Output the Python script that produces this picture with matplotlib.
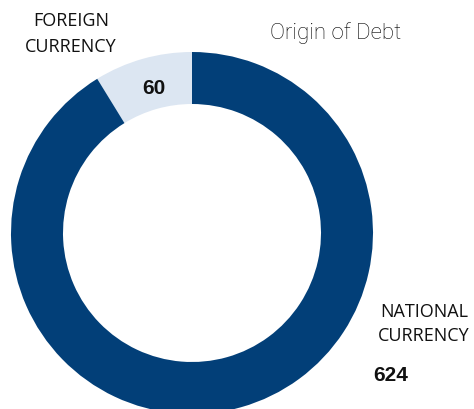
import matplotlib
matplotlib.use('Agg')
import matplotlib.pyplot as plt

labels = ['FOREIGN\nCURRENCY', 'NATIONAL\nCURRENCY']
values = [60, 624]
colors = ['#dce6f2', '#023f78']
title = 'Origin of Debt'

W, H = 474, 410
fig = plt.figure(figsize=(W / 100.0, H / 100.0), dpi=100)
ax = fig.add_axes([0, 0, 1, 1])

cx, cy, r = 192, H - 234, 181
ax.pie(values, colors=colors, startangle=90, counterclock=True,
       center=(cx, cy), radius=r, frame=True,
       wedgeprops=dict(width=52, linewidth=0))
ax.set_xlim(0, W)
ax.set_ylim(0, H)
ax.set_aspect('equal')
ax.axis('off')

ax.text(71, H - 34, labels[0], ha='center', va='center', fontsize=13,
        family='Open Sans', color='#111111', linespacing=1.6)
ax.text(424, H - 324, labels[1], ha='center', va='center', fontsize=13,
        family='Open Sans', color='#111111', linespacing=1.45)
ax.text(154, H - 88, str(values[0]), ha='center', va='center', fontsize=15,
        family='Liberation Sans', fontweight='bold', color='#111111')
ax.text(391, H - 376, str(values[1]), ha='center', va='center', fontsize=15,
        family='Liberation Sans', fontweight='bold', color='#111111')
ax.text(336, H - 33, title, ha='center', va='center', fontsize=16,
        family='Roboto', fontweight='light', color='#000000')

fig.savefig('out.png', dpi=100)
